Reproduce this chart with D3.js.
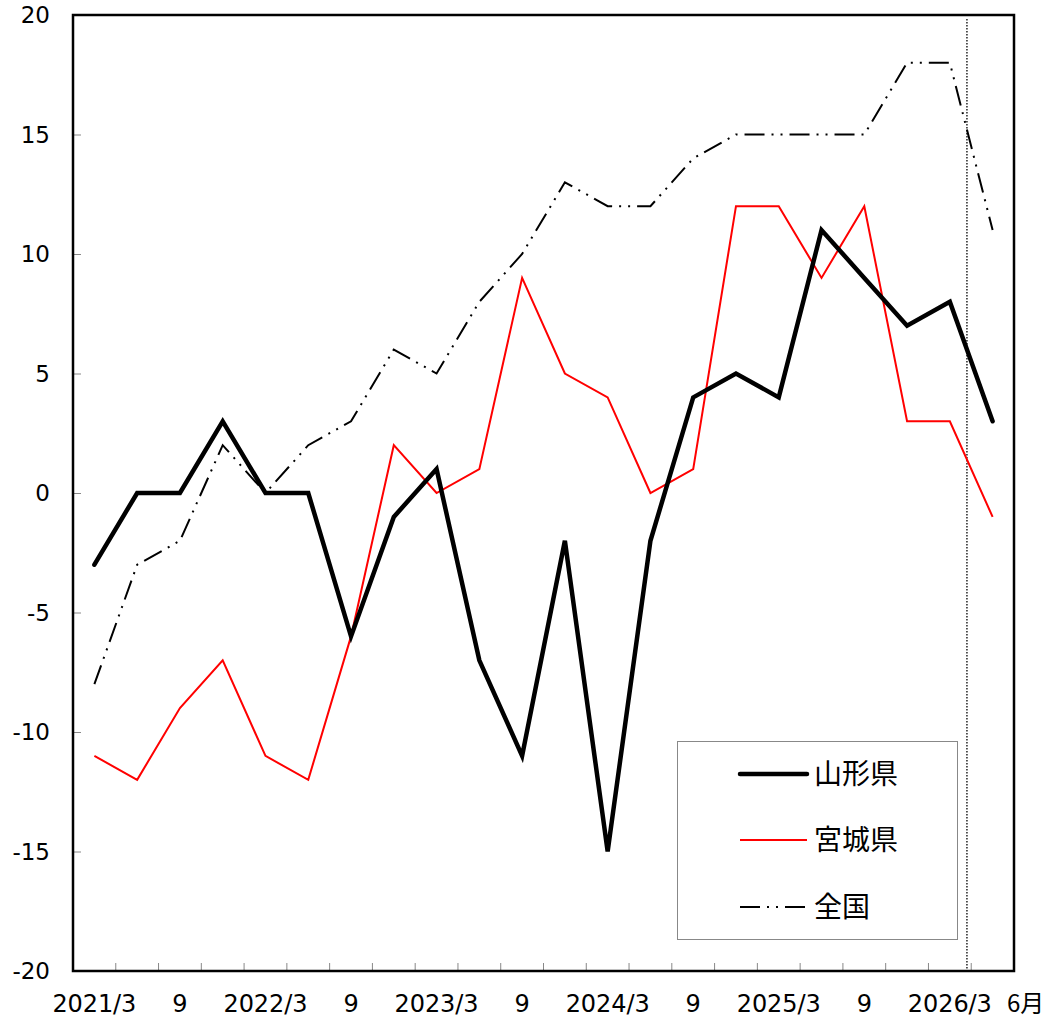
<!DOCTYPE html>
<head>
    <meta charset="utf-8">
    <title>DI</title>
    <script type="text/javascript" src="https://d3js.org/d3.v7.min.js"></script>
    <style>
        body { margin: 0; background: #fff; }
        text { font-family: "DejaVu Sans", Verdana, sans-serif; }
        .jp { font-family: "Noto Sans CJK JP", sans-serif; }
    </style>
</head>
<body>
<div id="container"></div>
<script>
    //-----------------------------DATA------------------------------//
    const periods = ["2021/3","2021/6","2021/9","2021/12","2022/3","2022/6","2022/9","2022/12",
        "2023/3","2023/6","2023/9","2023/12","2024/3","2024/6","2024/9","2024/12",
        "2025/3","2025/6","2025/9","2025/12","2026/3","2026/6"];
    const tickLabels = ["2021/3","","9","","2022/3","","9","","2023/3","","9","",
        "2024/3","","9","","2025/3","","9","","2026/3",""];
    const yamagata = [-3,0,0,3,0,0,-6,-1,1,-7,-11,-2,-15,-2,4,5,4,11,9,7,8,3];
    const miyagi = [-11,-12,-9,-7,-11,-12,-6,2,0,1,9,5,4,0,1,12,12,9,12,3,3,-1];
    const zenkoku = [-8,-3,-2,2,0,2,3,6,5,8,10,13,12,12,14,15,15,15,15,18,18,11];
    const yTicks = [-20,-15,-10,-5,0,5,10,15,20];

    //-----------------------------SVG-------------------------------//
    const width = 1048, height = 1020;
    const margin = {top: 15, right: 34, bottom: 49, left: 73};

    const svg = d3.select("div#container").append("svg")
        .attr("width", width)
        .attr("height", height);

    //----------------------------SCALES-----------------------------//
    const xScale = d3.scaleBand().domain(periods)
        .range([margin.left, width - margin.right]);
    const yScale = d3.scaleLinear().domain([-20, 20])
        .range([height - margin.bottom, margin.top]);
    const xc = d => xScale(d) + xScale.bandwidth() / 2;

    //-----------------------------AXES------------------------------//
    // y ticks (small, inward)
    svg.append("g")
        .attr("transform", `translate(${margin.left},0)`)
        .call(d3.axisRight(yScale).tickValues(yTicks).tickSize(8).tickFormat(""))
        .call(g => g.select(".domain").remove())
        .call(g => g.selectAll("line").attr("stroke", "#888"));

    svg.append("g")
        .selectAll("text")
        .data(yTicks)
        .enter().append("text")
        .attr("x", 50)
        .attr("y", d => yScale(d))
        .attr("dy", "0.35em")
        .attr("text-anchor", "end")
        .attr("font-size", 23)
        .text(d => d);

    // x ticks at band boundaries
    const bounds = periods.slice(1).map(p => xScale(p));
    svg.append("g")
        .selectAll("line")
        .data(bounds)
        .enter().append("line")
        .attr("x1", d => d).attr("x2", d => d)
        .attr("y1", height - margin.bottom)
        .attr("y2", height - margin.bottom - 8)
        .attr("stroke", "#888");

    svg.append("g")
        .selectAll("text")
        .data(periods)
        .enter().append("text")
        .attr("x", d => xc(d))
        .attr("y", 1004)
        .attr("dy", "0.35em")
        .attr("text-anchor", "middle")
        .attr("font-size", 24)
        .attr("textLength", (d, i) => tickLabels[i].length > 1 ? 84 : null)
        .text((d, i) => tickLabels[i]);

    svg.append("text")
        .attr("class", "jp")
        .attr("x", xc("2026/6") + 33)
        .attr("y", 1004)
        .attr("dy", "0.35em")
        .attr("text-anchor", "middle")
        .attr("font-size", 24)
        .text("6月");

    // dotted marker line
    const markX = xc("2026/3") + xScale.bandwidth() * 0.4;
    svg.append("line")
        .attr("x1", markX).attr("x2", markX)
        .attr("y1", margin.top + 4).attr("y2", height - margin.bottom)
        .attr("stroke", "#000")
        .attr("stroke-width", 1.3)
        .attr("stroke-dasharray", "1.5,1.5");

    // frame
    svg.append("rect")
        .attr("x", margin.left).attr("y", margin.top)
        .attr("width", width - margin.left - margin.right)
        .attr("height", height - margin.top - margin.bottom)
        .attr("fill", "none")
        .attr("stroke", "#000")
        .attr("stroke-width", 2.5);

    //----------------------------LINES------------------------------//
    const line = d3.line()
        .x((d, i) => xc(periods[i]))
        .y(d => yScale(d));

    svg.append("path")
        .attr("d", line(zenkoku))
        .attr("fill", "none")
        .attr("stroke", "#000")
        .attr("stroke-width", 2)
        .attr("stroke-dasharray", "20,7,2,7,2,7");

    svg.append("path")
        .attr("d", line(miyagi))
        .attr("fill", "none")
        .attr("stroke", "#ff0000")
        .attr("stroke-width", 2);

    svg.append("path")
        .attr("d", line(yamagata))
        .attr("fill", "none")
        .attr("stroke", "#000")
        .attr("stroke-width", 4.5)
        .attr("stroke-linejoin", "miter")
        .attr("stroke-linecap", "round");

    //----------------------------LEGEND-----------------------------//
    const legend = svg.append("g");
    legend.append("rect")
        .attr("x", 677.5).attr("y", 741.5)
        .attr("width", 280).attr("height", 198)
        .attr("fill", "#fff")
        .attr("stroke", "#888")
        .attr("stroke-width", 1);

    const items = [
        {name: "山形県", y: 774, color: "#000", w: 4.5, dash: null},
        {name: "宮城県", y: 840, color: "#ff0000", w: 2, dash: null},
        {name: "全国", y: 907, color: "#000", w: 2, dash: "20,7,2,7,2,7"}
    ];
    items.forEach(it => {
        legend.append("line")
            .attr("x1", 740).attr("x2", 807)
            .attr("y1", it.y).attr("y2", it.y)
            .attr("stroke", it.color)
            .attr("stroke-width", it.w)
            .attr("stroke-linecap", it.w > 3 ? "round" : "butt")
            .attr("stroke-dasharray", it.dash);
        legend.append("text")
            .attr("class", "jp")
            .attr("x", 814)
            .attr("y", it.y)
            .attr("dy", "0.36em")
            .attr("font-size", 28)
            .text(it.name);
    });
</script>
</body>
